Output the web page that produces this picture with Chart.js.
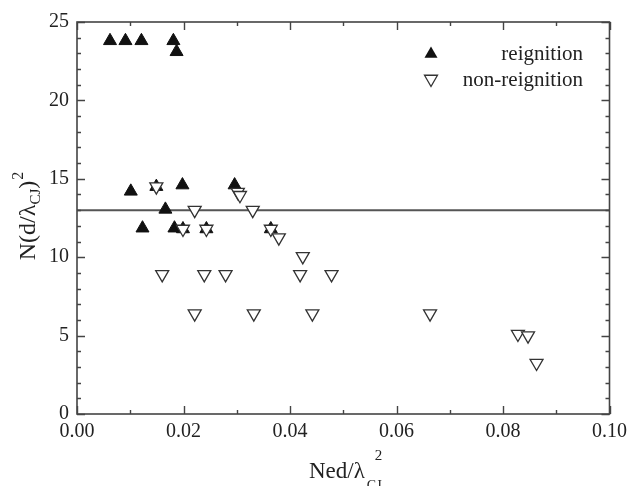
<!DOCTYPE html>
<html>
<head>
<meta charset="utf-8">
<script src="https://cdn.jsdelivr.net/npm/chart.js@4/dist/chart.umd.min.js"></script>
<style>
html, body { margin: 0; padding: 0; background: #fff; }
</style>
</head>
<body>
<canvas id="c" width="633" height="486"></canvas>
<script>
// reignition (filled, pointing up)
var reignX = [0.0062, 0.0091, 0.0121, 0.0181, 0.0187,
              0.0101, 0.0149, 0.0198, 0.0296,
              0.0166, 0.0123, 0.0183, 0.0199, 0.0243, 0.0364];
var reignY = [23.8, 23.8, 23.8, 23.8, 23.1,
              14.2, 14.5, 14.6, 14.6,
              13.05, 11.85, 11.85, 11.8, 11.8, 11.8];

// non-reignition (open, pointing down)
var nonX = [0.0149, 0.0302, 0.0306,
            0.0221, 0.0330,
            0.0199, 0.0243, 0.0364, 0.0379,
            0.0424,
            0.0160, 0.0239, 0.0279, 0.0419, 0.0478,
            0.0221, 0.0332, 0.0442, 0.0663,
            0.0828, 0.0847, 0.0863];
var nonY = [14.5, 14.15, 13.95,
            13.0, 13.0,
            11.8, 11.8, 11.8, 11.25,
            10.05,
            8.9, 8.9, 8.9, 8.9, 8.9,
            6.4, 6.4, 6.4, 6.4,
            5.1, 5.0, 3.25];

// horizontal reference line
var limitY = 13;

// ticks
var xMajor = [0, 0.02, 0.04, 0.06, 0.08, 0.1];
var xMinor = [0.01, 0.03, 0.05, 0.07, 0.09];
var yMajor = [0, 5, 10, 15, 20, 25];
var yMinor = [1, 2, 3, 4, 6, 7, 8, 9, 11, 12, 13, 14, 16, 17, 18, 19, 21, 22, 23, 24];

var legendLabels = ["reignition", "non-reignition"];

var SERIF = "'Liberation Serif', 'Times New Roman', serif";

var pts = function(xs, ys){
	var out = [], i;
	for( i=0; i<xs.length; i++ ){
		out.push({ x : xs[i], y : ys[i] });
	}
	return out;
};

// same geometry as chart.js 'triangle'
var tri = function(ctx, x, y, r, rot){
	var rad = rot, k;
	ctx.beginPath();
	for( k=0; k<3; k++ ){
		var px = x + Math.sin(rad) * r, py = y - Math.cos(rad) * r;
		if( k==0 ) ctx.moveTo(px, py); else ctx.lineTo(px, py);
		rad += Math.PI * 2 / 3;
	}
	ctx.closePath();
};

var framePlugin = {
	id : "frame",
	afterDraw : function(chart){
		var ctx = chart.ctx, a = chart.chartArea;
		var xa = chart.scales.x, ya = chart.scales.y;
		ctx.save();
		ctx.strokeStyle = "#444";
		ctx.lineWidth = 1.6;
		ctx.strokeRect(a.left, a.top, a.right - a.left, a.bottom - a.top);

		var drawX = function(list, len){
			list.forEach(function(v){
				var px = Math.round(xa.getPixelForValue(v)) + 0.5;
				ctx.beginPath();
				ctx.moveTo(px, a.bottom); ctx.lineTo(px, a.bottom - len);
				ctx.moveTo(px, a.top); ctx.lineTo(px, a.top + len);
				ctx.stroke();
			});
		};
		var drawY = function(list, len){
			list.forEach(function(v){
				var py = Math.round(ya.getPixelForValue(v)) + 0.5;
				ctx.beginPath();
				ctx.moveTo(a.left, py); ctx.lineTo(a.left + len, py);
				ctx.moveTo(a.right, py); ctx.lineTo(a.right - len, py);
				ctx.stroke();
			});
		};
		ctx.lineWidth = 1.4;
		drawX(xMajor, 8); drawX(xMinor, 4);
		drawY(yMajor, 8); drawY(yMinor, 4);

		// legend
		ctx.fillStyle = "#111";
		tri(ctx, 431, 54, 7.5, 0);
		ctx.fill();
		ctx.fillStyle = "#fff";
		ctx.strokeStyle = "#333";
		ctx.lineWidth = 1.3;
		tri(ctx, 431, 79, 7.5, Math.PI);
		ctx.fill(); ctx.stroke();

		ctx.fillStyle = "#222";
		ctx.font = "21px " + SERIF;
		ctx.textAlign = "right";
		ctx.textBaseline = "alphabetic";
		ctx.fillText(legendLabels[0], 583, 60);
		ctx.fillText(legendLabels[1], 583, 86);

		// x title: Ned/λ²_CJ
		ctx.textAlign = "left";
		ctx.font = "23px " + SERIF;
		var main = "Ned/\u03bb";
		var wm = ctx.measureText(main).width;
		var x0 = 309;
		ctx.fillText(main, x0, 478);
		ctx.font = "15px " + SERIF;
		ctx.fillText("2", x0 + wm + 10, 460);
		ctx.font = "14px " + SERIF;
		ctx.fillText("CJ", x0 + wm + 2, 490);

		// y title: N(d/λ_CJ)²
		ctx.translate(35, 216);
		ctx.rotate(-Math.PI / 2);
		ctx.font = "24px " + SERIF;
		var p1 = "N(d/\u03bb", w1 = ctx.measureText(p1).width;
		ctx.font = "15px " + SERIF;
		var w2 = ctx.measureText("CJ").width;
		ctx.font = "24px " + SERIF;
		var w3 = ctx.measureText(")").width;
		ctx.font = "16px " + SERIF;
		var w4 = ctx.measureText("2").width;
		var total = w1 + w2 + w3 + w4 + 1;
		var sx = -total / 2;
		ctx.font = "24px " + SERIF;
		ctx.fillText(p1, sx, 0);
		ctx.font = "15px " + SERIF;
		ctx.fillText("CJ", sx + w1, 5);
		ctx.font = "24px " + SERIF;
		ctx.fillText(")", sx + w1 + w2, 0);
		ctx.font = "16px " + SERIF;
		ctx.fillText("2", sx + w1 + w2 + w3 + 1, -12);
		ctx.restore();
	}
};

var tickFont = { family : SERIF, size : 20 };

var chart = new Chart(document.getElementById("c"), {
	type : "scatter",
	data : {
		datasets : [
			{
				label : legendLabels[1],
				data : pts(nonX, nonY),
				pointStyle : "triangle",
				rotation : 180,
				pointRadius : 7.5,
				backgroundColor : "#fff",
				borderColor : "#333",
				borderWidth : 1.3
			},
			{
				label : legendLabels[0],
				data : pts(reignX, reignY),
				pointStyle : "triangle",
				pointRadius : 7.5,
				backgroundColor : "#111",
				borderColor : "#111",
				borderWidth : 1
			},
			{
				label : "limit",
				data : [{ x : 0, y : limitY }, { x : 0.1, y : limitY }],
				showLine : true,
				pointRadius : 0,
				borderColor : "#555",
				borderWidth : 2
			}
		]
	},
	options : {
		responsive : false,
		animation : false,
		devicePixelRatio : 1,
		layout : { padding : { top : 22, right : 20, left : 0, bottom : 0 } },
		plugins : { legend : { display : false }, tooltip : { enabled : false } },
		scales : {
			x : {
				type : "linear", min : 0, max : 0.1,
				afterFit : function(s){ s.height = 72; },
				afterBuildTicks : function(s){ s.ticks = xMajor.map(function(v){ return { value : v }; }); },
				grid : { display : false, drawTicks : false },
				border : { display : false },
				ticks : {
					padding : 6, color : "#222", font : tickFont, maxRotation : 0, autoSkip : false,
					callback : function(v){ return Number(v).toFixed(2); }
				}
			},
			y : {
				type : "linear", min : 0, max : 25,
				afterFit : function(s){ s.width = 77; },
				afterBuildTicks : function(s){ s.ticks = yMajor.map(function(v){ return { value : v }; }); },
				grid : { display : false, drawTicks : false },
				border : { display : false },
				ticks : { padding : 8, color : "#222", font : tickFont }
			}
		}
	},
	plugins : [framePlugin]
});
</script>
</body>
</html>
